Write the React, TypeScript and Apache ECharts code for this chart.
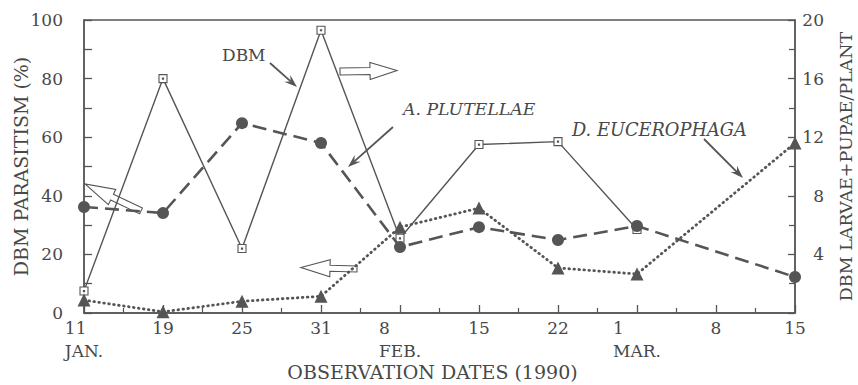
import { useEffect, useRef } from 'react';
import * as echarts from 'echarts';

// Observation dates (1990), evenly spaced along the x axis
const dayLabels = ['11', '19', '25', '31', '8', '15', '22', '1', '8', '15'];
const monthLabels = ['JAN.', '', '', '', 'FEB.', '', '', 'MAR.', '', ''];

// DBM larvae + pupae per plant (right axis)
const dbmPerPlant: (number | null)[] = [1.5, 16, 4.4, 19.3, 5.1, 11.5, 11.7, 5.7, null, null];
// Parasitism (%) by A. plutellae and D. eucerophaga (left axis)
const plutellaePct: (number | null)[] = [36.2, 34.1, 64.8, 58, 22.5, 29.3, 24.9, 29.7, null, 12.3];
const eucerophagaPct: (number | null)[] = [4.4, 0.4, 4, 5.7, 29.3, 35.8, 15.4, 13.3, null, 58];

const leftRange = { min: 0, max: 100, step: 20 };
const rightRange = { min: 0, max: 20, step: 4 };

const INK = '#555';
const TEXT = '#484848';
const FONT = '"DejaVu Serif", serif';

const toPoints = (vals: (number | null)[]) =>
  vals.map((v, i) => (v == null ? null : [i, v])).filter((p) => p !== null) as number[][];

// Thin annotation arrow with a barbed, filled head
function lineArrow(x1: number, y1: number, x2: number, y2: number) {
  const dx = x2 - x1;
  const dy = y2 - y1;
  const len = Math.hypot(dx, dy);
  const ux = dx / len;
  const uy = dy / len;
  const nx = -uy;
  const ny = ux;
  const hl = 13;
  const hw = 4.5;
  const bx = x2 - ux * hl;
  const by = y2 - uy * hl;
  const kx = x2 - ux * hl * 0.65;
  const ky = y2 - uy * hl * 0.65;
  return [
    {
      type: 'line',
      shape: { x1, y1, x2: kx, y2: ky },
      style: { stroke: INK, lineWidth: 1.8 },
    },
    {
      type: 'polygon',
      shape: {
        points: [
          [x2, y2],
          [bx + nx * hw, by + ny * hw],
          [kx, ky],
          [bx - nx * hw, by - ny * hw],
        ],
      },
      style: { fill: INK },
    },
  ];
}

// Hollow block arrow pointing from tail to tip
function blockArrow(
  tx: number, ty: number, px: number, py: number,
  shaftHalf: number, headHalf: number, headLen: number,
) {
  const dx = px - tx;
  const dy = py - ty;
  const len = Math.hypot(dx, dy);
  const ux = dx / len;
  const uy = dy / len;
  const nx = -uy;
  const ny = ux;
  const bx = px - ux * headLen;
  const by = py - uy * headLen;
  return {
    type: 'polygon',
    shape: {
      points: [
        [tx + nx * shaftHalf, ty + ny * shaftHalf],
        [bx + nx * shaftHalf, by + ny * shaftHalf],
        [bx + nx * headHalf, by + ny * headHalf],
        [px, py],
        [bx - nx * headHalf, by - ny * headHalf],
        [bx - nx * shaftHalf, by - ny * shaftHalf],
        [tx - nx * shaftHalf, ty - ny * shaftHalf],
      ],
    },
    style: { fill: 'transparent', stroke: INK, lineWidth: 1.1 },
  };
}

export default function App() {
  const ref = useRef<HTMLDivElement>(null);

  useEffect(() => {
    if (!ref.current) return;
    const chart = echarts.init(ref.current, null, { renderer: 'svg' });

    const axisLine = { show: true, lineStyle: { color: INK, width: 1.5 } };
    const nameStyle = { fontFamily: FONT, fontSize: 19, color: TEXT };

    chart.setOption({
      animation: false,
      backgroundColor: '#fff',
      textStyle: { fontFamily: FONT },
      grid: {
        left: 84,
        right: 63,
        top: 20,
        bottom: 72,
        outerBoundsMode: 'none',
        containLabel: false,
        show: true,
        borderColor: INK,
        borderWidth: 1.3,
        backgroundColor: 'transparent',
      },
      xAxis: {
        type: 'value',
        min: 0,
        max: dayLabels.length - 1,
        interval: 1,
        name: 'OBSERVATION DATES (1990)',
        nameLocation: 'middle',
        nameGap: 49,
        nameMoveOverlap: false,
        nameTextStyle: { ...nameStyle, padding: [0, 14, 0, 0] },
        axisLine,
        axisTick: { show: true, inside: true, length: 8, lineStyle: { color: INK, width: 1.3 } },
        minorTick: { show: true, splitNumber: 2, length: 5, lineStyle: { color: INK, width: 1.2 } },
        splitLine: { show: false },
        axisLabel: {
          margin: 3,
          color: TEXT,
          fontFamily: FONT,
          fontSize: 17,
          lineHeight: 23,
          formatter: (v: number) => {
            const day = dayLabels[v] ?? '';
            const month = monthLabels[v] ?? '';
            return month ? `{d|${day}}\n{m|${month}}` : day;
          },
          rich: {
            d: { align: 'left', fontFamily: FONT, fontSize: 17, color: TEXT, lineHeight: 23 },
            m: { align: 'left', fontFamily: FONT, fontSize: 17, color: TEXT, lineHeight: 23 },
          },
        },
      },
      yAxis: [
        {
          type: 'value',
          position: 'left',
          min: leftRange.min,
          max: leftRange.max,
          interval: leftRange.step,
          name: 'DBM PARASITISM (%)',
          nameLocation: 'middle',
          nameRotate: 90,
          nameGap: 54,
          nameMoveOverlap: false,
          nameTextStyle: nameStyle,
          axisLine,
          axisTick: { show: true, inside: true, length: 8, lineStyle: { color: INK, width: 1.3 } },
          minorTick: { show: true, splitNumber: 2, length: 8, lineStyle: { color: INK, width: 1.3 } },
          splitLine: { show: false },
          axisLabel: { margin: 21, color: TEXT, fontFamily: FONT, fontSize: 17 },
        },
        {
          type: 'value',
          position: 'right',
          min: rightRange.min,
          max: rightRange.max,
          interval: rightRange.step,
          name: 'DBM LARVAE+PUPAE/PLANT',
          nameLocation: 'middle',
          nameRotate: 90,
          nameGap: 42,
          nameMoveOverlap: false,
          nameTextStyle: { ...nameStyle, fontSize: 17.5 },
          axisLine,
          axisTick: { show: true, inside: true, length: 7, lineStyle: { color: INK, width: 1.3 } },
          minorTick: { show: true, splitNumber: 2, length: 6, lineStyle: { color: INK, width: 1.2 } },
          splitLine: { show: false },
          axisLabel: {
            margin: 29,
            align: 'right',
            color: TEXT,
            fontFamily: FONT,
            fontSize: 17,
            formatter: (v: number) => (v === 0 ? '' : String(v)),
          },
        },
      ],
      series: [
        {
          name: 'DBM',
          type: 'line',
          yAxisIndex: 1,
          data: toPoints(dbmPerPlant),
          symbol: 'path://M0 0H10V10H0Z M4.3 4.3H5.7V5.7H4.3Z',
          symbolSize: 8,
          lineStyle: { color: INK, width: 1.4, type: 'solid' },
          itemStyle: { color: '#fff', borderColor: INK, borderWidth: 1.1 },
          z: 2,
        },
        {
          name: 'A. PLUTELLAE',
          type: 'line',
          yAxisIndex: 0,
          data: toPoints(plutellaePct),
          symbol: 'circle',
          symbolSize: 12,
          lineStyle: { color: INK, width: 2.6, type: [14, 7] },
          itemStyle: { color: INK, borderWidth: 0 },
          z: 3,
        },
        {
          name: 'D. EUCEROPHAGA',
          type: 'line',
          yAxisIndex: 0,
          data: toPoints(eucerophagaPct),
          symbol: 'triangle',
          symbolSize: 13,
          lineStyle: { color: INK, width: 2.8, type: [0.6, 4.4], cap: 'round' },
          itemStyle: { color: INK, borderWidth: 0 },
          z: 4,
        },
      ],
      graphic: [
        {
          type: 'text',
          x: 222,
          y: 55,
          style: { text: 'DBM', fontFamily: FONT, fontSize: 17, fill: TEXT, align: 'left', verticalAlign: 'middle' },
        },
        {
          type: 'text',
          x: 403,
          y: 109,
          style: {
            text: 'A. PLUTELLAE', fontFamily: FONT, fontSize: 17.3, fontStyle: 'italic',
            fill: TEXT, align: 'left', verticalAlign: 'middle',
          },
        },
        {
          type: 'text',
          x: 572,
          y: 129,
          style: {
            text: 'D. EUCEROPHAGA', fontFamily: FONT, fontSize: 17.8, fontStyle: 'italic',
            fill: TEXT, align: 'left', verticalAlign: 'middle',
          },
        },
        ...lineArrow(270, 63, 297, 87),
        ...lineArrow(393, 127, 348, 167),
        ...lineArrow(704, 139, 743, 178),
        blockArrow(340, 71.5, 397, 70.5, 3.5, 8.5, 27),
        blockArrow(357, 269, 301, 267.5, 3, 8.5, 29),
        blockArrow(141, 211, 85, 184, 3.2, 8.5, 30),
      ],
    });

    return () => chart.dispose();
  }, []);

  return (
    <div
      ref={ref}
      style={{ position: 'fixed', left: 0, top: 0, width: 858, height: 385, background: '#fff' }}
    />
  );
}
